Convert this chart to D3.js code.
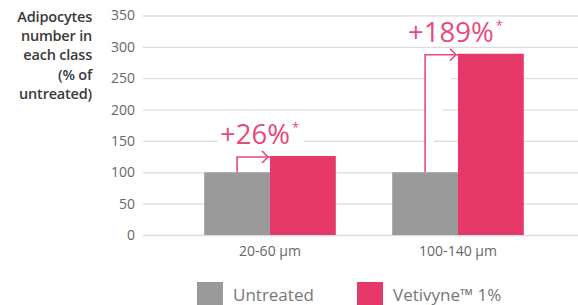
<!DOCTYPE html>
<html><head><meta charset="utf-8">
<script src="https://cdn.jsdelivr.net/npm/d3@7"></script>
<style>
html,body{margin:0;padding:0;background:#fff;}
svg{display:block;font-family:"Open Sans",sans-serif;}
</style></head>
<body><svg id="c" width="578" height="305"></svg>
<script>
const categories = ["20-60 µm", "100-140 µm"];
const seriesNames = ["Untreated", "Vetivyne™ 1%"];
const untreated = [100, 100];
const vetivyne = [126, 289];
const increases = ["+26%", "+189%"];
const yTicks = [0, 50, 100, 150, 200, 250, 300, 350];
const yLabel = ["Adipocytes", "number in", "each class", "(% of", "untreated)"];

const colors = ["#9a9a9a", "#e6396a"];
const annColor = "#e8497a";
const svg = d3.select("#c");

const y = d3.scaleLinear().domain([0, 350]).range([235, 15.5]);
const x0 = d3.scaleBand().domain(categories).range([176, 552]).paddingInner(0.3).paddingOuter(0.15);
const x1 = d3.scaleBand().domain(seriesNames).range([0, x0.bandwidth()]);

// y axis with gridlines
const gy = svg.append("g").attr("transform", "translate(578,0)")
  .call(d3.axisLeft(y).tickValues(yTicks).tickSize(435).tickPadding(8));
gy.select(".domain").remove();
gy.selectAll(".tick line").attr("stroke", "#dcdcdc").attr("stroke-width", 1.3);
gy.selectAll(".tick text").attr("fill", "#666").attr("font-size", 14).attr("font-family", "Open Sans");

// y label
const yl = svg.append("text").attr("text-anchor", "end").attr("fill", "#3a3a3a")
  .attr("font-size", 14.5).attr("font-weight", 600).attr("letter-spacing", -0.2);
yLabel.forEach((t, i) => yl.append("tspan").attr("x", 92).attr("y", 22 + i * 19.2).text(t));

// bars
const data = categories.map((c, i) => ({c, vals: [untreated[i], vetivyne[i]]}));
const groups = svg.append("g").selectAll("g").data(data).join("g")
  .attr("transform", d => `translate(${x0(d.c)},0)`);
groups.selectAll("rect").data(d => d.vals.map((v, j) => ({s: seriesNames[j], v, j})))
  .join("rect")
  .attr("x", d => x1(d.s)).attr("width", x1.bandwidth())
  .attr("y", d => y(d.v)).attr("height", d => y(0) - y(d.v))
  .attr("fill", d => colors[d.j]);

// x axis labels
const gx = svg.append("g").attr("transform", `translate(0,${y(0)})`)
  .call(d3.axisBottom(x0).tickSize(0).tickPadding(11));
gx.select(".domain").remove();
gx.selectAll(".tick text").attr("fill", "#666").attr("font-size", 14).attr("font-family", "Open Sans");

// annotations
data.forEach((d, i) => {
  const gxp = x0(d.c) + x1(seriesNames[0]) + x1.bandwidth() / 2;
  const px = x0(d.c) + x1(seriesNames[1]);
  const yt = y(vetivyne[i]) + 1;
  const g = svg.append("g");
  g.append("path")
    .attr("d", `M${gxp},${y(untreated[i])}V${yt}H${px}`)
    .attr("fill", "#fff").attr("stroke", annColor).attr("stroke-width", 1.6);
  g.append("path")
    .attr("d", `M${px - 8},${yt - 6}L${px - 2},${yt}L${px - 8},${yt + 6}`)
    .attr("fill", "none").attr("stroke", annColor).attr("stroke-width", 1.6);
  const tx = gxp - 17;
  const ty = yt - 13;
  const t = g.append("text").attr("x", tx).attr("y", ty).attr("fill", annColor)
    .attr("font-size", 27.5).text(increases[i]);
  const bb = t.node().getBBox();
  g.insert("rect", "text").attr("x", bb.x - 2).attr("y", bb.y + 4).attr("width", bb.width + 16).attr("height", bb.height - 8).attr("fill", "#fff");
  g.append("text").attr("x", bb.x + bb.width + 2).attr("y", ty - 12).attr("fill", annColor)
    .attr("font-size", 13).text("*");
});

// legend
const leg = svg.append("g");
const legX = [197, 357];
seriesNames.forEach((s, i) => {
  leg.append("rect").attr("x", legX[i]).attr("y", 282).attr("width", 26).attr("height", 26).attr("fill", colors[i]);
  leg.append("text").attr("x", legX[i] + 36).attr("y", 301).attr("fill", "#777")
    .attr("font-size", 17).text(s);
});
</script></body></html>
